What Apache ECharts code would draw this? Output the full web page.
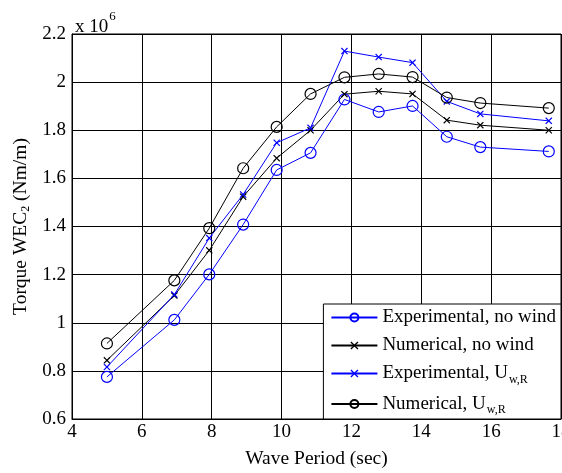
<!DOCTYPE html>
<html><head><meta charset="utf-8">
<script src="https://cdn.jsdelivr.net/npm/echarts@6/dist/echarts.min.js"></script>
<style>html,body{margin:0;padding:0;background:#fff}#c{width:562px;height:473px}</style>
</head><body><div id="c"></div>
<script>
const periods = [5, 6.93, 7.93, 8.9, 9.86, 10.83, 11.8, 12.78, 13.75, 14.73, 15.69, 17.65];
const expNoWind = [0.775, 1.012, 1.201, 1.408, 1.635, 1.706, 1.928, 1.876, 1.901, 1.773, 1.730, 1.712];
const numNoWind = [0.844, 1.113, 1.301, 1.524, 1.684, 1.800, 1.950, 1.962, 1.951, 1.842, 1.821, 1.800];
const expWind = [0.816, 1.117, 1.352, 1.533, 1.748, 1.810, 2.129, 2.104, 2.081, 1.920, 1.868, 1.839];
const numWind = [0.914, 1.176, 1.393, 1.642, 1.814, 1.951, 2.020, 2.034, 2.021, 1.936, 1.913, 1.892];
const seriesNames = ['Experimental, no wind', 'Numerical, no wind', 'Experimental, U_w,R', 'Numerical, U_w,R'];

const FONT = '"Liberation Serif", "Times New Roman", serif';
const crossPath = 'path://M0,1.2L1.2,0L5,3.8L8.8,0L10,1.2L6.2,5L10,8.8L8.8,10L5,6.2L1.2,10L0,8.8L3.8,5Z';
const pair = arr => periods.map((p, i) => [p, arr[i]]);
function mk(name, data, color, marker) {
  const circ = marker === 'o';
  return {
    name, type: 'line', data: pair(data),
    symbol: circ ? 'circle' : crossPath,
    symbolSize: circ ? 11 : 7,
    showAllSymbol: true,
    lineStyle: { color, width: 1 },
    itemStyle: circ ? { color: 'rgba(255,255,255,0)', borderColor: color, borderWidth: 1.2 } : { color, borderWidth: 0 },
    emphasis: { disabled: true },
    animation: false, z: 3
  };
}
const chart = echarts.init(document.getElementById('c'), null, { renderer: 'canvas' });
chart.setOption({
  animation: false,
  textStyle: { fontFamily: FONT },
  grid: { left: 72, top: 34, right: 1, bottom: 54, show: true, borderColor: '#000', borderWidth: 1, containLabel: false, outerBoundsMode: 'none' },
  title: {
    text: '{a|x 10}{b|6}', left: 70, top: 5,
    textStyle: { fontWeight: 'normal', rich: { a: { fontFamily: FONT, fontSize: 19, fontWeight: 'normal', color: '#000', padding: [8, 0, 0, 0] }, b: { fontFamily: FONT, fontSize: 13, fontWeight: 'normal', color: '#000', verticalAlign: 'top', padding: [0, 0, 6, 1] } } }
  },
  xAxis: {
    type: 'value', min: 4, max: 18, interval: 2,
    name: 'Wave Period (sec)', nameLocation: 'middle', nameGap: 30,
    nameTextStyle: { fontFamily: FONT, fontSize: 19.5, color: '#000' },
    axisLine: { show: true, lineStyle: { color: '#000', width: 1 } },
    axisTick: { show: false },
    axisLabel: { fontFamily: FONT, fontSize: 19, color: '#000', margin: 4, showMaxLabel: true, hideOverlap: false },
    splitLine: { show: true, lineStyle: { color: '#000', width: 1 } }
  },
  yAxis: {
    type: 'value', min: 0.6, max: 2.2, interval: 0.2,
    name: 'Torque WEC{s|2} (Nm/m)', nameLocation: 'middle', nameGap: 40,
    nameTextStyle: { fontFamily: FONT, fontSize: 19.5, color: '#000', rich: { s: { fontFamily: FONT, fontSize: 12, color: '#000', verticalAlign: 'bottom', padding: [9, 0, 0, 0] } } },
    axisLine: { show: true, lineStyle: { color: '#000', width: 1 } },
    axisTick: { show: false },
    axisLabel: { fontFamily: FONT, fontSize: 19, color: '#000', margin: 6, formatter: v => String(+v.toFixed(1)) },
    splitLine: { show: true, lineStyle: { color: '#000', width: 1 } }
  },
  legend: {
    data: seriesNames, orient: 'vertical', right: 1, bottom: 54,
    backgroundColor: '#fff', borderColor: '#000', borderWidth: 1,
    padding: [4, 5, 3, 7], itemWidth: 46, itemHeight: 10, itemGap: 9,
    selectedMode: false,
    textStyle: { fontFamily: FONT, fontSize: 19, color: '#000',
      rich: { n: { fontFamily: FONT, fontSize: 19, color: '#000' }, s: { fontFamily: FONT, fontSize: 12, color: '#000', verticalAlign: 'bottom', padding: [12, 0, 0, 1] } } },
    formatter: name => name.indexOf('_') >= 0 ? '{n|' + name.split('_')[0] + '}{s|' + name.split('_')[1] + '}' : name
  },
  series: [
    mk(seriesNames[0], expNoWind, '#0000ff', 'o'),
    mk(seriesNames[1], numNoWind, '#000000', 'x'),
    mk(seriesNames[2], expWind, '#0000ff', 'x'),
    mk(seriesNames[3], numWind, '#000000', 'o')
  ]
});
</script></body></html>
